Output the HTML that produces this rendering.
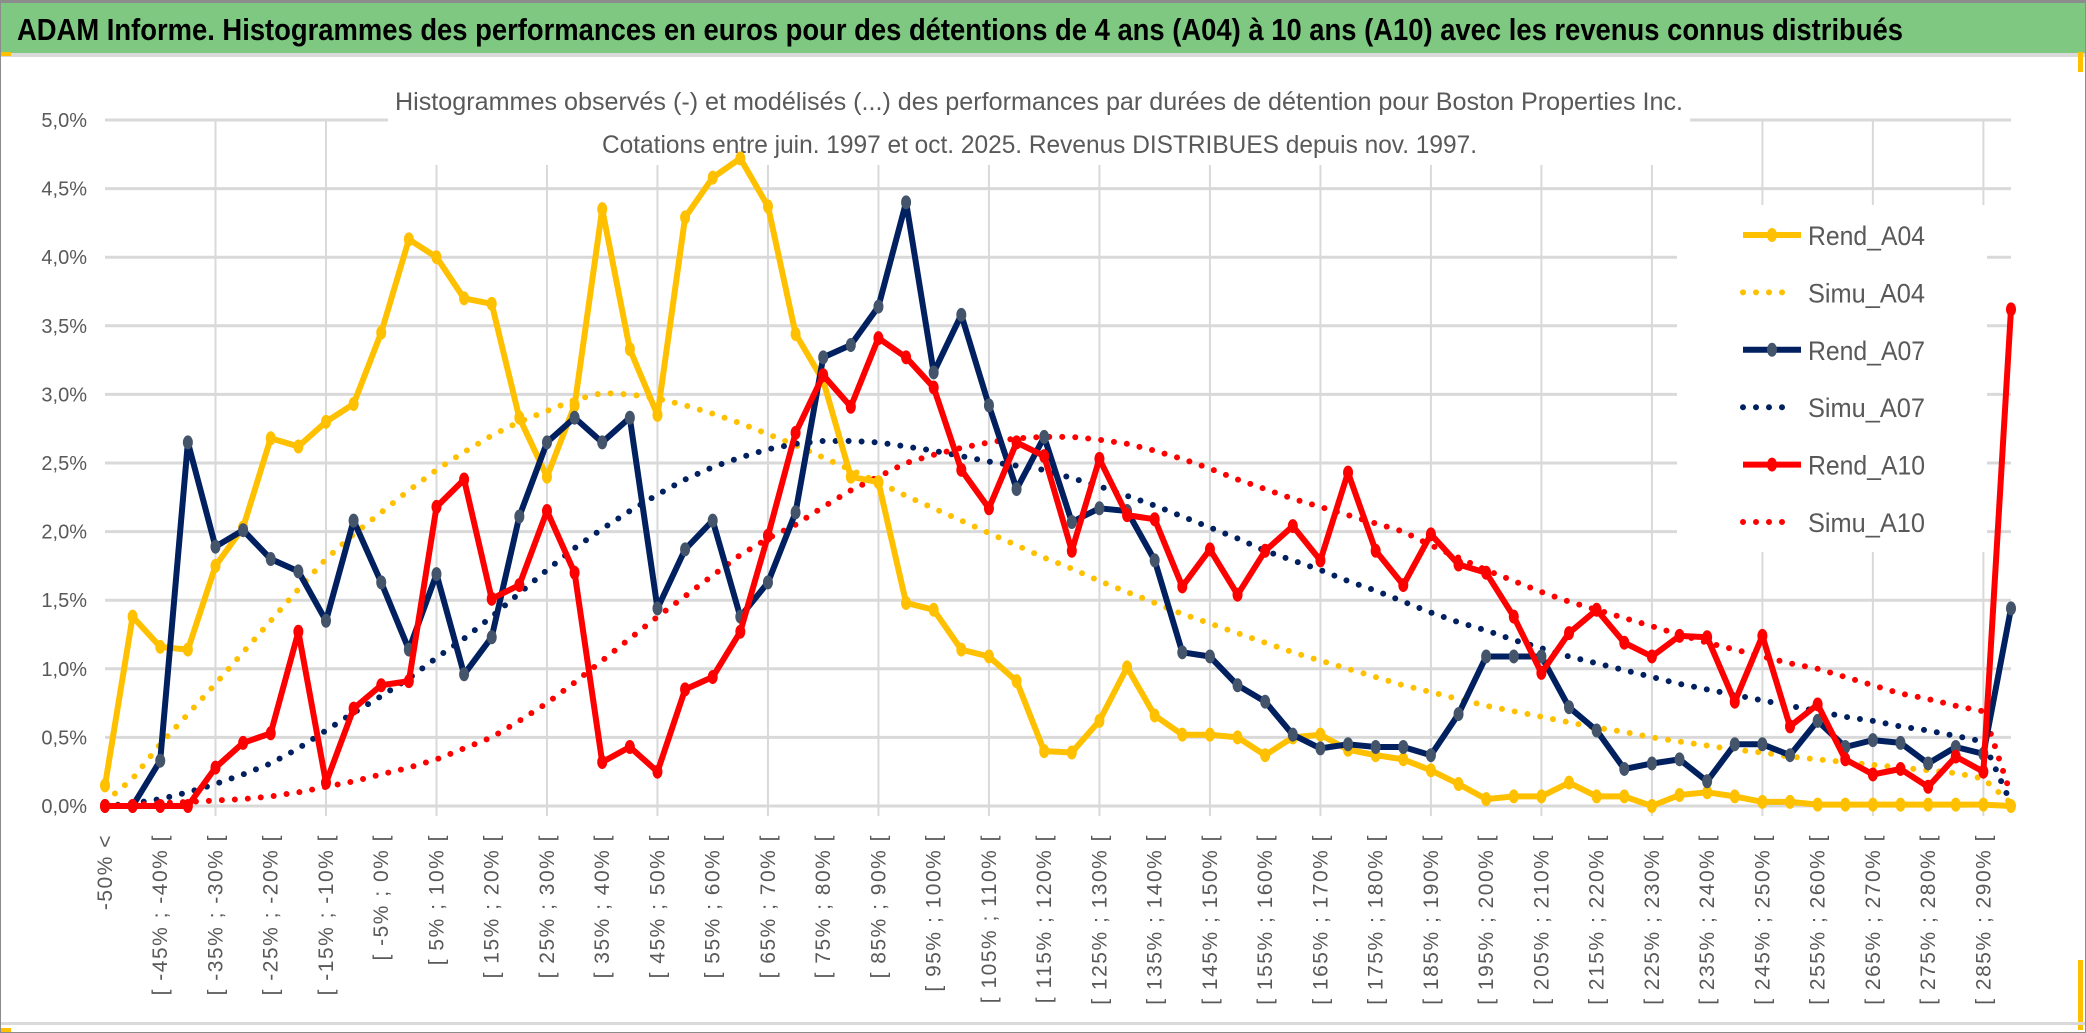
<!DOCTYPE html>
<html><head><meta charset="utf-8"><style>
html,body{margin:0;padding:0;background:#fff;}
svg{display:block;font-family:"Liberation Sans Narrow","Liberation Sans",sans-serif;}
</style></head><body>
<svg id="chart" width="2086" height="1033" viewBox="0 0 2086 1033" xmlns="http://www.w3.org/2000/svg">
<rect x="0" y="0" width="2086" height="1033" fill="#fff"/>
<rect x="0" y="2" width="2086" height="51" fill="#7ec882"/>
<rect x="0" y="0" width="2086" height="3" fill="#8c8c8c"/>
<rect x="0" y="53" width="2086" height="4" fill="#d9d9d9"/>
<rect x="0" y="52" width="11" height="4" fill="#ffc000"/>
<rect x="2078" y="52" width="5" height="20" fill="#ffc000"/>
<rect x="2078" y="960" width="5" height="70" fill="#ffc000"/>
<rect x="0" y="1022" width="2086" height="3" fill="#d9d9d9"/>
<rect x="0" y="1028" width="11" height="5" fill="#ffc000"/>
<rect x="0.5" y="0.5" width="2085" height="1032" fill="none" stroke="#8c8c8c" stroke-width="1"/>
<text x="17" y="40" font-size="31" font-weight="bold" fill="#000" textLength="1886" lengthAdjust="spacingAndGlyphs">ADAM Informe. Histogrammes des performances en euros pour des détentions de 4 ans (A04) à 10 ans (A10) avec les revenus connus distribués</text>
<g id="grid"></g>
<rect x="388" y="60" width="1302" height="105" fill="#fff"/>
<text x="395" y="110" font-size="25" fill="#595959" textLength="1288" lengthAdjust="spacingAndGlyphs">Histogrammes observés (-) et modélisés (...) des performances par durées de détention pour Boston Properties Inc.</text>
<text x="602" y="153" font-size="25" fill="#595959" textLength="875" lengthAdjust="spacingAndGlyphs">Cotations entre juin. 1997 et oct. 2025. Revenus DISTRIBUES depuis nov. 1997.</text>
<rect x="1677" y="205" width="310" height="347" fill="#fff"/>
<g id="ylabels"></g>
<g id="xlabels"></g>
<g id="series"></g>
<g id="legend"></g>
</svg>
<script>
const categories = ["-50% <","[ -50% ; -45% [","[ -45% ; -40% [","[ -40% ; -35% [","[ -35% ; -30% [","[ -30% ; -25% [","[ -25% ; -20% [","[ -20% ; -15% [","[ -15% ; -10% [","[ -10% ; -5% [","[ -5% ; 0% [","[ 0% ; 5% [","[ 5% ; 10% [","[ 10% ; 15% [","[ 15% ; 20% [","[ 20% ; 25% [","[ 25% ; 30% [","[ 30% ; 35% [","[ 35% ; 40% [","[ 40% ; 45% [","[ 45% ; 50% [","[ 50% ; 55% [","[ 55% ; 60% [","[ 60% ; 65% [","[ 65% ; 70% [","[ 70% ; 75% [","[ 75% ; 80% [","[ 80% ; 85% [","[ 85% ; 90% [","[ 90% ; 95% [","[ 95% ; 100% [","[ 100% ; 105% [","[ 105% ; 110% [","[ 110% ; 115% [","[ 115% ; 120% [","[ 120% ; 125% [","[ 125% ; 130% [","[ 130% ; 135% [","[ 135% ; 140% [","[ 140% ; 145% [","[ 145% ; 150% [","[ 150% ; 155% [","[ 155% ; 160% [","[ 160% ; 165% [","[ 165% ; 170% [","[ 170% ; 175% [","[ 175% ; 180% [","[ 180% ; 185% [","[ 185% ; 190% [","[ 190% ; 195% [","[ 195% ; 200% [","[ 200% ; 205% [","[ 205% ; 210% [","[ 210% ; 215% [","[ 215% ; 220% [","[ 220% ; 225% [","[ 225% ; 230% [","[ 230% ; 235% [","[ 235% ; 240% [","[ 240% ; 245% [","[ 245% ; 250% [","[ 250% ; 255% [","[ 255% ; 260% [","[ 260% ; 265% [","[ 265% ; 270% [","[ 270% ; 275% [","[ 275% ; 280% [","[ 280% ; 285% [","[ 285% ; 290% [","> 290%"];
const rendA04 = [0.15,1.38,1.16,1.14,1.75,2.03,2.68,2.62,2.80,2.93,3.45,4.13,4.00,3.70,3.66,2.83,2.40,2.92,4.35,3.33,2.85,4.29,4.58,4.72,4.37,3.44,3.10,2.40,2.36,1.48,1.43,1.14,1.09,0.91,0.40,0.39,0.62,1.01,0.66,0.52,0.52,0.50,0.37,0.50,0.52,0.41,0.37,0.34,0.26,0.16,0.05,0.07,0.07,0.17,0.07,0.07,0.00,0.08,0.10,0.07,0.03,0.03,0.01,0.01,0.01,0.01,0.01,0.01,0.01,0.00];
const simuA04 = [0.03,0.2,0.45,0.67,0.89,1.12,1.35,1.58,1.8,1.98,2.14,2.3,2.45,2.58,2.7,2.8,2.88,2.96,3.01,3.0,2.97,2.92,2.86,2.79,2.71,2.63,2.54,2.45,2.36,2.26,2.17,2.08,1.99,1.90,1.81,1.73,1.64,1.56,1.48,1.40,1.33,1.26,1.19,1.12,1.06,1.0,0.94,0.88,0.83,0.78,0.73,0.69,0.65,0.61,0.57,0.54,0.50,0.47,0.44,0.41,0.39,0.36,0.34,0.32,0.30,0.28,0.26,0.24,0.2,0.02];
const rendA07 = [0,0,0.33,2.65,1.89,2.01,1.80,1.71,1.35,2.08,1.63,1.14,1.69,0.96,1.23,2.11,2.65,2.83,2.65,2.83,1.44,1.87,2.08,1.38,1.63,2.14,3.27,3.36,3.64,4.40,3.16,3.58,2.92,2.31,2.69,2.07,2.17,2.15,1.79,1.12,1.09,0.88,0.76,0.52,0.42,0.45,0.43,0.43,0.37,0.67,1.09,1.09,1.09,0.72,0.55,0.27,0.31,0.34,0.18,0.45,0.45,0.37,0.62,0.43,0.48,0.46,0.31,0.43,0.38,1.44];
const simuA07 = [0,0.02,0.05,0.1,0.16,0.23,0.31,0.42,0.55,0.68,0.8,0.93,1.08,1.22,1.38,1.55,1.72,1.88,2.02,2.15,2.27,2.38,2.47,2.54,2.6,2.64,2.66,2.66,2.65,2.62,2.59,2.55,2.51,2.48,2.45,2.39,2.33,2.26,2.19,2.11,2.03,1.95,1.86,1.79,1.72,1.64,1.57,1.49,1.41,1.34,1.28,1.21,1.15,1.09,1.04,0.99,0.94,0.89,0.85,0.81,0.77,0.73,0.69,0.65,0.62,0.58,0.55,0.51,0.47,0.02];
const rendA10 = [0,0,0,0,0.28,0.46,0.53,1.27,0.17,0.71,0.88,0.91,2.18,2.38,1.51,1.61,2.15,1.70,0.32,0.43,0.25,0.85,0.94,1.27,1.97,2.72,3.14,2.91,3.41,3.27,3.05,2.45,2.17,2.65,2.55,1.86,2.53,2.12,2.09,1.60,1.87,1.54,1.86,2.04,1.79,2.43,1.86,1.61,1.98,1.76,1.70,1.38,0.97,1.26,1.43,1.19,1.09,1.24,1.23,0.76,1.24,0.58,0.74,0.34,0.23,0.27,0.14,0.36,0.25,3.62];
const simuA10 = [0,0.01,0.02,0.03,0.04,0.05,0.07,0.1,0.14,0.18,0.23,0.28,0.34,0.42,0.5,0.62,0.75,0.9,1.06,1.22,1.38,1.53,1.68,1.83,1.95,2.05,2.18,2.3,2.4,2.5,2.56,2.61,2.65,2.68,2.69,2.69,2.67,2.64,2.59,2.53,2.46,2.38,2.31,2.24,2.18,2.12,2.06,2.0,1.9,1.81,1.72,1.64,1.56,1.49,1.43,1.37,1.31,1.25,1.19,1.14,1.09,1.04,1.0,0.94,0.88,0.82,0.78,0.73,0.69,0.08];
const yTicks = [0,0.5,1,1.5,2,2.5,3,3.5,4,4.5,5];
const yTickLabels = ["0,0%","0,5%","1,0%","1,5%","2,0%","2,5%","3,0%","3,5%","4,0%","4,5%","5,0%"];
const seriesNames = ["Rend_A04","Simu_A04","Rend_A07","Simu_A07","Rend_A10","Simu_A10"];

const NS="http://www.w3.org/2000/svg";
const X0=105, X1=2011, Y0=806, Y1=120;
const xs = i => X0 + i*(X1-X0)/(categories.length-1);
const ys = v => Y0 - (v/5)*(Y0-Y1);
function mk(tag, parent){const e=document.createElementNS(NS,tag);parent.appendChild(e);return e;}

const grid=document.getElementById('grid');
yTicks.forEach((t,k)=>{
  const l=mk('line',grid);
  
  
  l.setAttribute('x1',X0);l.setAttribute('x2',X1);l.setAttribute('y1',ys(t));l.setAttribute('y2',ys(t));
  l.setAttribute('stroke','#d9d9d9');l.setAttribute('stroke-width','3');
});
for(let i=4;i<categories.length;i+=4){
  const l=mk('line',grid);
  
  
  l.setAttribute('x1',xs(i));l.setAttribute('x2',xs(i));l.setAttribute('y1',Y1);l.setAttribute('y2',Y0+10);
  l.setAttribute('stroke','#d9d9d9');l.setAttribute('stroke-width','2');
}
const yl=document.getElementById('ylabels');
yTicks.forEach((t,k)=>{
  const tx=mk('text',yl);
  
  
  tx.setAttribute('x',87);tx.setAttribute('y',ys(t)+7);
  tx.setAttribute('text-anchor','end');tx.setAttribute('font-size','20');tx.setAttribute('fill','#595959');
  tx.textContent=yTickLabels[k];
});
const xl=document.getElementById('xlabels');
categories.forEach((c,i)=>{
  if(i!==0 && i%2!==0) return;
  const tx=mk('text',xl);
  
  
  const x=xs(i)+7, y=834;
  tx.setAttribute('transform','translate('+x+','+y+') rotate(-90)');
  tx.setAttribute('text-anchor','end');tx.setAttribute('font-size','21');tx.setAttribute('fill','#595959');
  tx.setAttribute('font-family','"Liberation Sans",sans-serif');
  tx.setAttribute('letter-spacing','1.5');
  tx.textContent=c;
});
const sg=document.getElementById('series');
function pts(arr){return arr.map((v,i)=>xs(i).toFixed(1)+','+ys(v).toFixed(1)).join(' ');}
function solid(arr,color,mcolor,name){
  const g=mk('g',sg);
  
  
  const p=mk('polyline',g);
  
  
  p.setAttribute('points',pts(arr));p.setAttribute('fill','none');p.setAttribute('stroke',color);
  p.setAttribute('stroke-width','6');p.setAttribute('stroke-linejoin','round');
  arr.forEach((v,i)=>{
    const c=mk('ellipse',g);
    
    
    c.setAttribute('cx',xs(i));c.setAttribute('cy',ys(v));c.setAttribute('rx',5);c.setAttribute('ry',7);c.setAttribute('fill',mcolor);
  });
}
function dotted(arr,color,name){
  const p=mk('polyline',sg);
  
  
  p.setAttribute('points',pts(arr));p.setAttribute('fill','none');p.setAttribute('stroke',color);
  p.setAttribute('stroke-width','6');p.setAttribute('stroke-linecap','round');p.setAttribute('stroke-dasharray','0 13');
}
dotted(simuA04,'#ffc000','simu-a04-line');
dotted(simuA07,'#002060','simu-a07-line');
dotted(simuA10,'#ff0000','simu-a10-line');
solid(rendA04,'#ffc000','#ffc000','rend-a04-series');
solid(rendA07,'#002060','#44546a','rend-a07-series');
solid(rendA10,'#ff0000','#ff0000','rend-a10-series');

const lg=document.getElementById('legend');
const lcolors=['#ffc000','#ffc000','#002060','#002060','#ff0000','#ff0000'];
seriesNames.forEach((n,k)=>{
  const y=235+k*57.4;
  const g=mk('g',lg);
  
  
  const l=mk('line',g);
  l.setAttribute('x1',1743);l.setAttribute('x2',1801);l.setAttribute('y1',y);l.setAttribute('y2',y);
  l.setAttribute('stroke',lcolors[k]);l.setAttribute('stroke-width','6');
  if(k%2===1){l.setAttribute('stroke-linecap','round');l.setAttribute('stroke-dasharray','0 13');l.setAttribute('x2',1785);}
  else{const m=mk('ellipse',g);m.setAttribute('cx',1772);m.setAttribute('cy',y);m.setAttribute('rx',5);m.setAttribute('ry',7);m.setAttribute('fill',k===2?'#44546a':lcolors[k]);}
  const t=mk('text',g);
  t.setAttribute('x',1808);t.setAttribute('y',y+10);t.setAttribute('font-size','27');t.setAttribute('fill','#595959');
  t.setAttribute('textLength','117');t.setAttribute('lengthAdjust','spacingAndGlyphs');
  t.textContent=n;
});
</script>
</body></html>
